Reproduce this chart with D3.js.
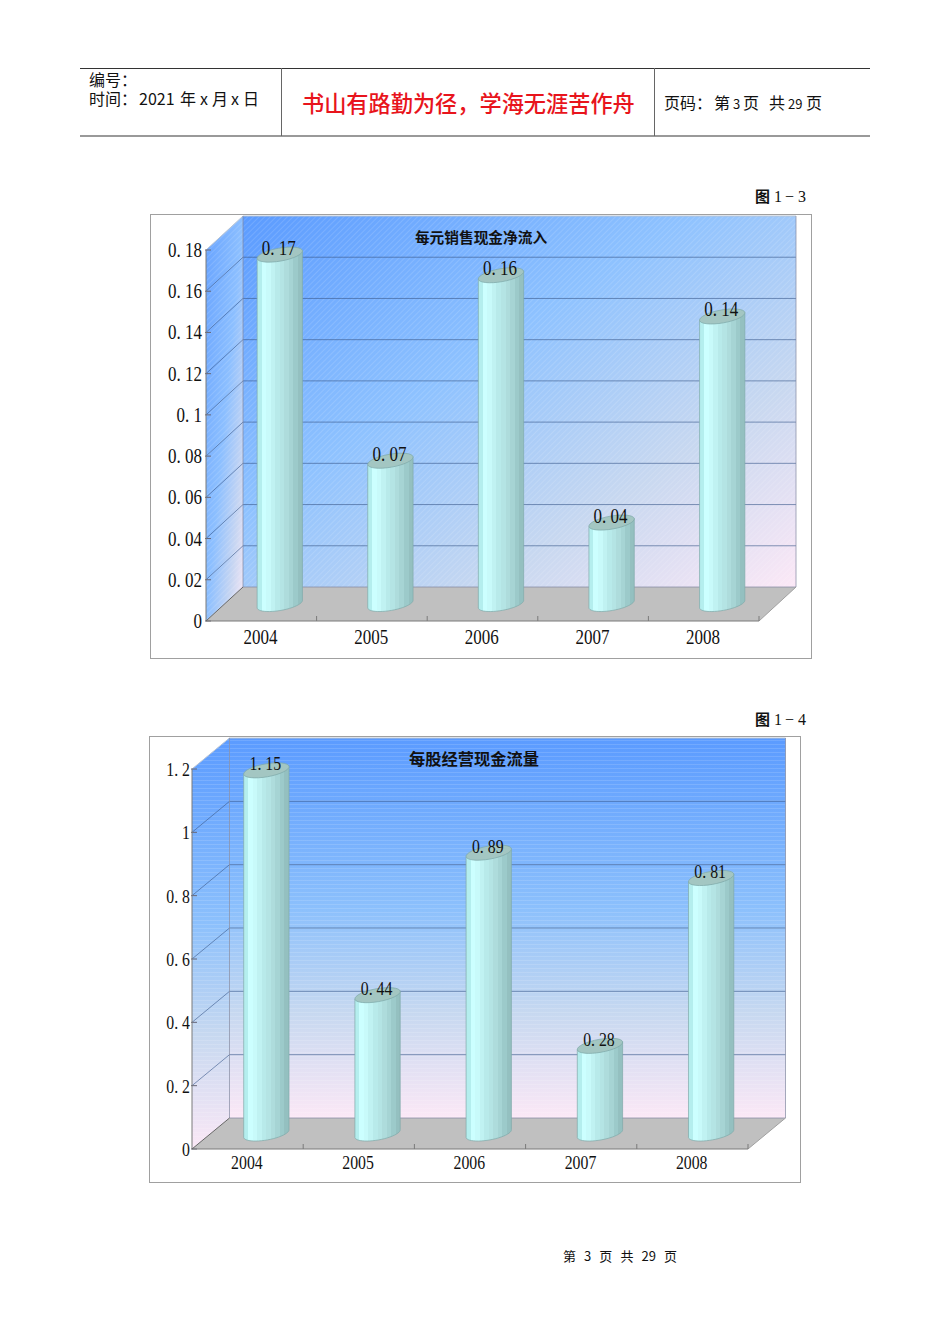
<!DOCTYPE html>
<html>
<head>
<meta charset="utf-8">
<script src="https://cdnjs.cloudflare.com/ajax/libs/d3/7.8.5/d3.min.js"></script>
<style>
  html, body { margin: 0; padding: 0; background: #fff; }
  svg { display: block; }
  text { font-family: "Noto Sans CJK SC", sans-serif; fill: #111; }
</style>
</head>
<body>
<svg id="page" width="950" height="1344"></svg>
<script>
const years = ["2004", "2005", "2006", "2007", "2008"];

const cashPerSales = [0.17, 0.07, 0.16, 0.04, 0.14];
const salesTicks = [0, 0.02, 0.04, 0.06, 0.08, 0.1, 0.12, 0.14, 0.16, 0.18];
const cashPerShare = [1.15, 0.44, 0.89, 0.28, 0.81];
const shareTicks = [0, 0.2, 0.4, 0.6, 0.8, 1, 1.2];

const svg = d3.select("#page");
const defs = svg.append("defs");

// stepped shading round the cylinder
const cylinderSteps = ["#b4eeee", "#ccffff", "#c8fafa", "#c0f2f2", "#b8eaea", "#b4e4e4", "#aedcdc", "#a6d4d4", "#9ccaca", "#94c0c0"];
const cyl = defs.append("linearGradient").attr("id", "cyl");
cylinderSteps.forEach((c, i) => {
  cyl.append("stop").attr("offset", i / cylinderSteps.length).attr("stop-color", c);
  cyl.append("stop").attr("offset", (i + 1) / cylinderSteps.length).attr("stop-color", c);
});

function gradient(id, x1, y1, x2, y2, stops) {
  const g = defs.append("linearGradient").attr("id", id)
    .attr("x1", x1).attr("y1", y1).attr("x2", x2).attr("y2", y2);
  stops.forEach(s => g.append("stop").attr("offset", s[0]).attr("stop-color", s[1]));
}
gradient("wall1", 0, 0, 1, 1, [[0, "#5b9bff"], [0.4, "#8ec2ff"], [0.72, "#c8d8f0"], [1, "#fce8f6"]]);
gradient("side1", 0, 0, 1, 1, [[0, "#66a2ff"], [0.5, "#8cbfff"], [0.8, "#c8d6f2"], [1, "#f6e8f6"]]);
gradient("wall2", 0, 0, 0, 1, [[0, "#5b9bff"], [0.45, "#8cc0fc"], [0.72, "#c6d8f0"], [1, "#fbe8f6"]]);

const hatch = defs.append("pattern").attr("id", "hatch").attr("width", 4).attr("height", 4)
  .attr("patternUnits", "userSpaceOnUse").attr("patternTransform", "rotate(-45)");
hatch.append("rect").attr("width", 4).attr("height", 1).attr("fill", "#fff").attr("opacity", 0.13);

const stripes = defs.append("pattern").attr("id", "stripes").attr("width", 4).attr("height", 4)
  .attr("patternUnits", "userSpaceOnUse");
stripes.append("rect").attr("width", 4).attr("height", 1).attr("fill", "#fff").attr("opacity", 0.13);

// half width digits, like the song face of the original: tall font squeezed sideways
function monoText(g, str, x, y, cell, anchor) {
  const size = cell * 2.35;
  const fontCell = size / 2;
  const total = str.length * cell;
  const x0 = anchor === "end" ? x - total : anchor === "middle" ? x - total / 2 : x;
  g.append("text")
    .attr("transform", `translate(${x0},${y}) scale(${cell / fontCell},1)`)
    .attr("x", str.split("").map((c, i) => i * fontCell).join(" "))
    .attr("font-size", size)
    .style("font-family", '"Liberation Serif", serif')
    .text(str);
}

// lower half of a tilted ellipse, left end to right end
function lowerRim(cx, cy, r, ry, tilt) {
  const a = tilt * Math.PI / 180;
  return d3.range(0, 25).map(k => {
    const t = Math.PI - k * Math.PI / 24;
    const ex = r * Math.cos(t), ey = ry * Math.sin(t);
    return [cx + ex * Math.cos(a) - ey * Math.sin(a), cy + ex * Math.sin(a) + ey * Math.cos(a)];
  });
}

function drawChart(cfg) {
  const g = svg.append("g");
  const d = cfg.depth;

  const x = d3.scaleBand().domain(years).range([cfg.left, cfg.right]);
  const y = d3.scaleLinear().domain(cfg.domain).range([cfg.bottom, cfg.top]);

  g.append("rect")
    .attr("x", cfg.frame[0] + 0.5).attr("y", cfg.frame[1] + 0.5)
    .attr("width", cfg.frame[2] - cfg.frame[0]).attr("height", cfg.frame[3] - cfg.frame[1])
    .attr("fill", "#fff").attr("stroke", "#a0a0a0");

  const wallX0 = cfg.left + d.x, wallX1 = cfg.right + d.x;
  const wallY0 = cfg.top - d.y, wallY1 = cfg.bottom - d.y;

  // side wall, back wall, floor
  const side = [[cfg.left, cfg.top], [wallX0, wallY0], [wallX0, wallY1], [cfg.left, cfg.bottom]];
  const floor = [[cfg.left, cfg.bottom], [wallX0, wallY1], [wallX1, wallY1], [cfg.right, cfg.bottom]];
  const line = d3.line();

  g.append("path").attr("d", line(side) + "Z").attr("fill", `url(#${cfg.sideFill})`);
  g.append("path").attr("d", line(side) + "Z").attr("fill", `url(#${cfg.texture})`);
  g.append("rect").attr("x", wallX0).attr("y", wallY0).attr("width", wallX1 - wallX0).attr("height", wallY1 - wallY0)
    .attr("fill", `url(#${cfg.wallFill})`);
  g.append("rect").attr("x", wallX0).attr("y", wallY0).attr("width", wallX1 - wallX0).attr("height", wallY1 - wallY0)
    .attr("fill", `url(#${cfg.texture})`);
  g.append("path").attr("d", line(floor) + "Z").attr("fill", "#c0c0c0");

  // gridlines run along the side wall and then across the back
  cfg.ticks.forEach(t => {
    if (t > 0) {
      g.append("path")
        .attr("d", line([[cfg.left, y(t)], [wallX0, y(t) - d.y], [wallX1, y(t) - d.y]]))
        .attr("fill", "none")
        .attr("stroke", t === cfg.domain[1] ? "#b8c4d4" : "#3c5a8c")
        .attr("stroke-opacity", t === cfg.domain[1] ? 1 : 0.62);
    }
    g.append("line").attr("x1", cfg.left - 1).attr("x2", cfg.left + 5)
      .attr("y1", y(t)).attr("y2", y(t)).attr("stroke", "#667");
    monoText(g, String(t), cfg.left - cfg.labelGap, y(t) + 7, cfg.cell, "end");
  });

  // floor and wall outlines
  g.append("path").attr("d", line([[cfg.left, cfg.top], [cfg.left, cfg.bottom], [cfg.right, cfg.bottom]]))
    .attr("fill", "none").attr("stroke", "#7a7a7a");
  g.append("path").attr("d", line([[wallX0, wallY0], [wallX0, wallY1], [wallX1, wallY1], [wallX1, wallY0]]))
    .attr("fill", "none").attr("stroke", "#8088a0").attr("stroke-opacity", 0.7);
  g.append("path").attr("d", line([[cfg.left, cfg.bottom], [wallX0, wallY1]])).attr("fill", "none").attr("stroke", "#666");
  g.append("path").attr("d", line([[cfg.right, cfg.bottom], [wallX1, wallY1]])).attr("fill", "none").attr("stroke", "#a0a0a0");

  // x ticks between the categories, pointing up into the floor
  x.domain().forEach(yr => {
    const tx = x(yr) + x.bandwidth();
    g.append("line").attr("x1", tx).attr("x2", tx).attr("y1", cfg.bottom).attr("y2", cfg.bottom - 5).attr("stroke", "#7a7a7a");
    monoText(g, yr, x(yr) + x.bandwidth() / 2 - 0.7, cfg.bottom + cfg.xLabelGap, cfg.cell, "middle");
  });

  // cylinders stand half way back on the floor
  const r = 23, ry = 6.5, tilt = -10;
  cfg.values.forEach((v, i) => {
    const cx = x(years[i]) + x.bandwidth() / 2 + d.x / 2;
    const base = y(0) - d.y / 2;
    const topY = y(v) - d.y / 2 + 1;
    const rim = lowerRim(cx, base, r, ry, tilt);
    const upper = lowerRim(cx, topY, r, ry, tilt);
    const outline = [upper[0]].concat(rim, [upper[upper.length - 1]]);
    g.append("path").attr("d", line(outline) + "Z")
      .attr("fill", "url(#cyl)").attr("stroke", "#7fa9a9").attr("stroke-width", 0.7);
    g.append("ellipse")
      .attr("cx", cx).attr("cy", topY).attr("rx", r).attr("ry", ry)
      .attr("transform", `rotate(${tilt} ${cx} ${topY})`)
      .attr("fill", "#a3c6c2").attr("stroke", "#7fa9a9").attr("stroke-width", 0.7);
    monoText(g, String(v), cx - 1, topY, cfg.cell, "middle");
  });

  g.append("text").attr("x", cfg.titleX).attr("y", cfg.titleY)
    .attr("text-anchor", "middle").attr("font-size", cfg.titleSize).attr("font-weight", 700)
    .text(cfg.title);

  // figure number sits above the frame
  g.append("text").attr("x", 755).attr("y", cfg.figY).attr("font-size", 15).attr("font-weight", 700).text("图");
  g.append("text").attr("x", "774 785 798").attr("y", cfg.figY).attr("font-size", 16)
    .style("font-family", '"Liberation Serif", serif').text(cfg.fig);
}

drawChart({
  frame: [150, 214, 811, 658],
  left: 206, right: 759, top: 250, bottom: 621,
  depth: { x: 37, y: 34 },
  domain: [0, 0.18], ticks: salesTicks, values: cashPerSales,
  wallFill: "wall1", sideFill: "side1", texture: "hatch",
  cell: 8.5, labelGap: 4, xLabelGap: 22.5,
  title: "每元销售现金净流入", titleX: 481, titleY: 243, titleSize: 14.7,
  fig: "1−3", figY: 202
});

drawChart({
  frame: [149, 736, 800, 1182],
  left: 192, right: 748, top: 769, bottom: 1149,
  depth: { x: 37.5, y: 31 },
  domain: [0, 1.2], ticks: shareTicks, values: cashPerShare,
  wallFill: "wall2", sideFill: "wall2", texture: "stripes",
  cell: 7.9, labelGap: 2, xLabelGap: 20,
  title: "每股经营现金流量", titleX: 474, titleY: 765, titleSize: 16.25,
  fig: "1−4", figY: 725
});

// page header
const head = svg.append("g");
head.append("line").attr("x1", 80).attr("x2", 870).attr("y1", 68.5).attr("y2", 68.5).attr("stroke", "#333");
head.append("line").attr("x1", 80).attr("x2", 870).attr("y1", 136).attr("y2", 136).attr("stroke", "#777").attr("stroke-width", 1.5);
[281.5, 654.5].forEach(vx => head.append("line").attr("x1", vx).attr("x2", vx).attr("y1", 68).attr("y2", 136).attr("stroke", "#666"));

function headText(str, px, py, size) {
  return head.append("text").attr("x", px).attr("y", py).attr("font-size", size || 16).text(str);
}
headText("编号：", 89, 86);
headText("时间：", 89, 105);
headText("2021", 139, 105);
headText("年", 180, 105);
headText("x", 200, 105);
headText("月", 212, 105);
headText("x", 231, 105);
headText("日", 243, 105);
headText("页码：", 664, 109);
headText("第", 714, 109);
headText("3", 733, 109, 13);
headText("页", 743, 109);
headText("共", 769, 109);
headText("29", 788, 109, 13);
headText("页", 806, 109);
head.append("text").attr("x", 302).attr("y", 112).attr("font-size", 22.2).attr("font-weight", 500).style("fill", "#e8141c").text("书山有路勤为径，学海无涯苦作舟");

svg.append("text").attr("x", 620).attr("y", 1261).attr("text-anchor", "middle").attr("font-size", 13)
  .attr("word-spacing", 5.2).text("第 3 页 共 29 页");
</script>
</body>
</html>
